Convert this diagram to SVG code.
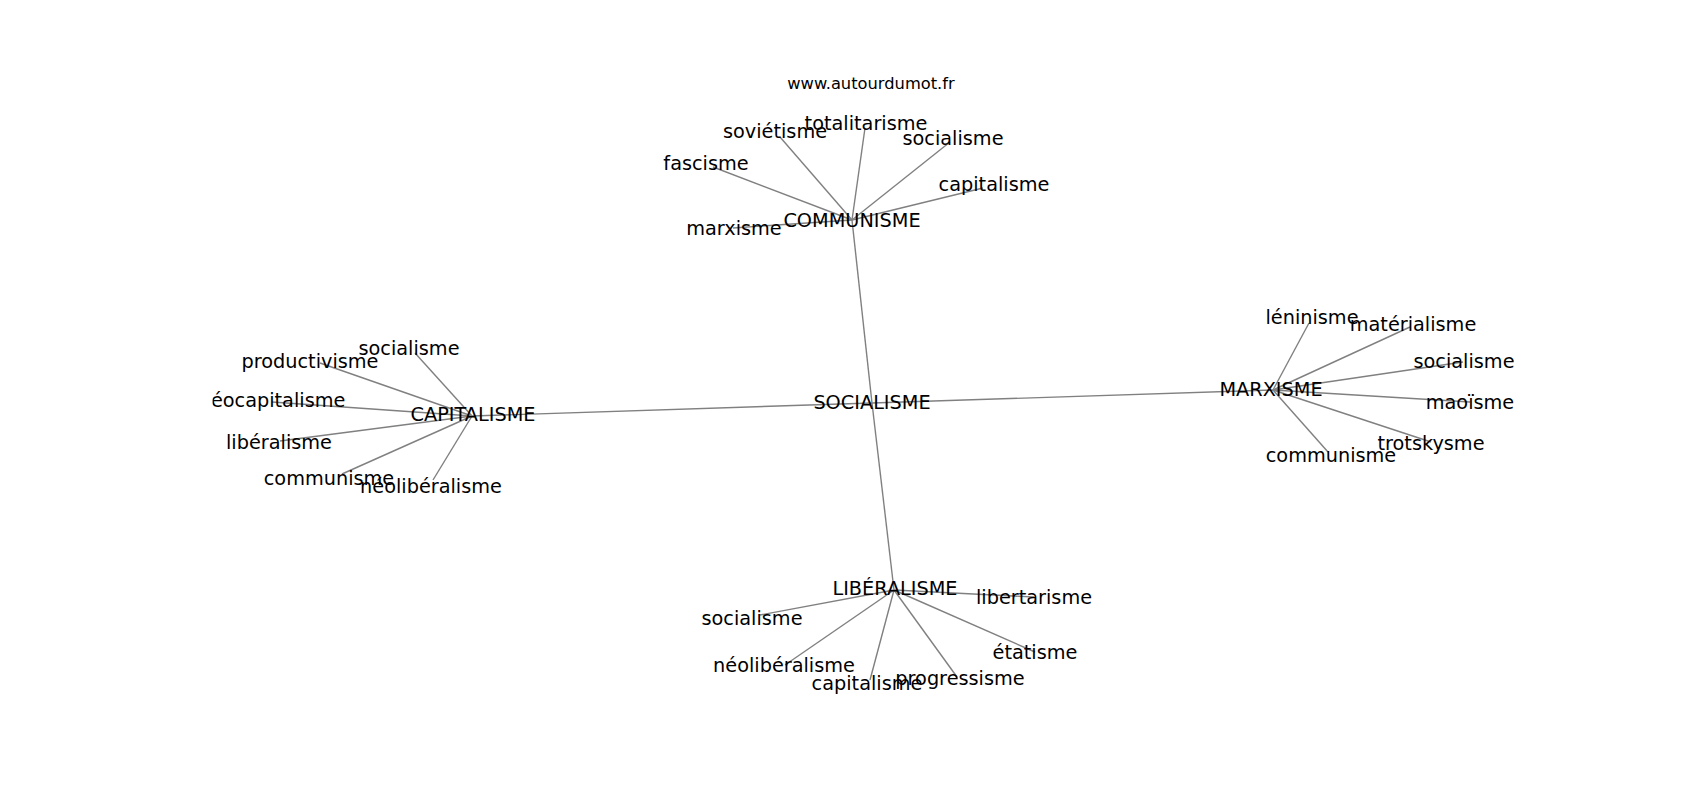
<svg xmlns="http://www.w3.org/2000/svg" width="1700" height="800" viewBox="0 0 1700 800">
<style>
.e{stroke:#808080;stroke-width:1.4;fill:none}
text{font-family:"DejaVu Sans",sans-serif;font-size:19.3px;fill:#000;text-anchor:middle}
.t{font-size:16.3px}
</style>
<defs><clipPath id="ax"><rect x="212.5" y="96" width="1317.5" height="616"/></clipPath></defs>
<rect width="1700" height="800" fill="#fff"/>
<text class="t" x="871" y="89">www.autourdumot.fr</text>
<g id="edges">
<line class="e" x1="872" y1="403" x2="852" y2="220"/>
<line class="e" x1="872" y1="403" x2="472" y2="416"/>
<line class="e" x1="872" y1="403" x2="1273" y2="390"/>
<line class="e" x1="872" y1="403" x2="894" y2="590"/>
<line class="e" x1="852" y1="220" x2="780" y2="137"/>
<line class="e" x1="852" y1="220" x2="865" y2="128"/>
<line class="e" x1="852" y1="220" x2="950" y2="142"/>
<line class="e" x1="852" y1="220" x2="713" y2="167"/>
<line class="e" x1="852" y1="220" x2="983" y2="188"/>
<line class="e" x1="852" y1="220" x2="733" y2="228"/>
<line class="e" x1="472" y1="416" x2="415" y2="353"/>
<line class="e" x1="472" y1="416" x2="320" y2="363"/>
<line class="e" x1="472" y1="416" x2="272" y2="402"/>
<line class="e" x1="472" y1="416" x2="280" y2="441"/>
<line class="e" x1="472" y1="416" x2="342" y2="474"/>
<line class="e" x1="472" y1="416" x2="433" y2="480"/>
<line class="e" x1="1273" y1="390" x2="1309" y2="323"/>
<line class="e" x1="1273" y1="390" x2="1410" y2="327"/>
<line class="e" x1="1273" y1="390" x2="1463" y2="362"/>
<line class="e" x1="1273" y1="390" x2="1470" y2="402"/>
<line class="e" x1="1273" y1="390" x2="1431" y2="442"/>
<line class="e" x1="1273" y1="390" x2="1328" y2="452"/>
<line class="e" x1="894" y1="590" x2="1034" y2="597"/>
<line class="e" x1="894" y1="590" x2="760" y2="615"/>
<line class="e" x1="894" y1="590" x2="1035" y2="652"/>
<line class="e" x1="894" y1="590" x2="785" y2="665"/>
<line class="e" x1="894" y1="590" x2="870" y2="680"/>
<line class="e" x1="894" y1="590" x2="957" y2="677"/>
</g>
<g id="n-socialisme"><text x="872" y="409">SOCIALISME</text></g>
<g id="n-communisme"><text x="852" y="227">COMMUNISME</text></g>
<g id="n-capitalisme"><text x="473" y="421">CAPITALISME</text></g>
<g id="n-marxisme"><text x="1271" y="396">MARXISME</text></g>
<g id="n-liberalisme"><text x="895" y="595">LIBÉRALISME</text></g>
<g id="c-sovietisme"><text x="775" y="138">soviétisme</text></g>
<g id="c-totalitarisme"><text x="866" y="130">totalitarisme</text></g>
<g id="c-socialisme"><text x="953" y="145">socialisme</text></g>
<g id="c-fascisme"><text x="706" y="170">fascisme</text></g>
<g id="c-capitalisme"><text x="994" y="191">capitalisme</text></g>
<g id="c-marxisme"><text x="734" y="235">marxisme</text></g>
<g id="k-socialisme"><text x="409" y="355">socialisme</text></g>
<g id="k-productivisme"><text x="310" y="368">productivisme</text></g>
<g id="k-neocapitalisme" clip-path="url(#ax)"><text x="272" y="407">néocapitalisme</text></g>
<g id="k-liberalisme"><text x="279" y="449">libéralisme</text></g>
<g id="k-communisme"><text x="329" y="485">communisme</text></g>
<g id="k-neoliberalisme"><text x="431" y="493">néolibéralisme</text></g>
<g id="m-leninisme"><text x="1312" y="324">léninisme</text></g>
<g id="m-materialisme"><text x="1413" y="331">matérialisme</text></g>
<g id="m-socialisme"><text x="1464" y="368">socialisme</text></g>
<g id="m-maoisme"><text x="1470" y="409">maoïsme</text></g>
<g id="m-trotskysme"><text x="1431" y="450">trotskysme</text></g>
<g id="m-communisme"><text x="1331" y="462">communisme</text></g>
<g id="l-libertarisme"><text x="1034" y="604">libertarisme</text></g>
<g id="l-socialisme"><text x="752" y="625">socialisme</text></g>
<g id="l-etatisme"><text x="1035" y="659">étatisme</text></g>
<g id="l-neoliberalisme"><text x="784" y="672">néolibéralisme</text></g>
<g id="l-capitalisme"><text x="867" y="690">capitalisme</text></g>
<g id="l-progressisme"><text x="960" y="685">progressisme</text></g>
</svg>
